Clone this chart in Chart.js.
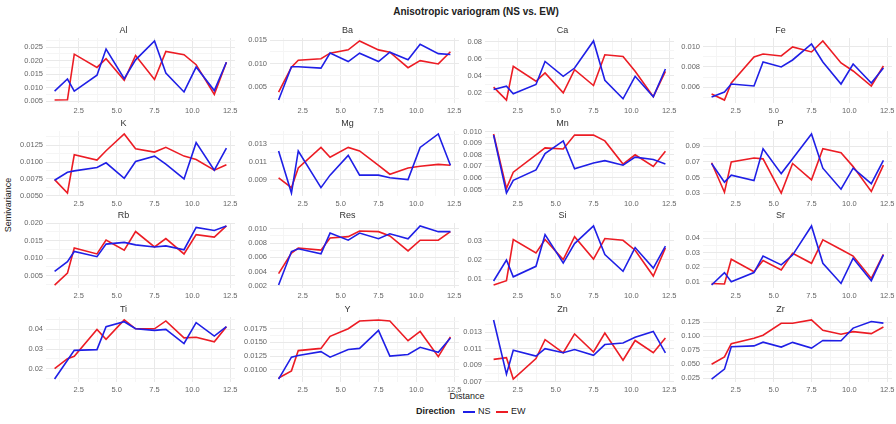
<!DOCTYPE html>
<html lang="en">
  <head>
    <meta charset="UTF-8" />
    <title>Anisotropic variogram</title>
    <script src="https://cdn.jsdelivr.net/npm/chart.js"></script>
    <style>
      body { margin: 0; background: #fff; font-family: "Liberation Sans", Arial, sans-serif; }
      #wrap { position: relative; width: 896px; height: 424px; overflow: hidden; }
      #wrap canvas { position: absolute; }
      .lbl { position: absolute; color: #222; white-space: nowrap; }
      #title { left: 0; width: 952px; top: 6px; text-align: center; font-weight: bold; font-size: 10px; }
      #ylab { left: -22px; top: 200px; width: 60px; text-align: center; font-size: 9px; transform: rotate(-90deg); }
      #xlab { left: 437px; top: 391px; width: 60px; text-align: center; font-size: 9px; }
      #legend { left: 416px; top: 406px; font-size: 9px; }
      #legend b { margin-right: 5px; }
      .key { display: inline-block; width: 12px; height: 2px; vertical-align: middle; margin: 0 3px 0 3px; }
    </style>
  </head>
  <body>
    <div id="wrap">
      <div id="title" class="lbl">Anisotropic variogram (NS vs. EW)</div>
      <div id="ylab" class="lbl">Semivariance</div>
      <div id="xlab" class="lbl">Distance</div>
      <div id="legend" class="lbl"></div>
    </div>
    <script>
      // lag distances (same for both directions)
      var distance = [0.9, 1.75, 2.2, 3.7, 4.3, 5.5, 6.25, 7.5, 8.25, 9.45, 10.25, 11.45, 12.25];
      var xTicks = ["2.5", "5.0", "7.5", "10.0", "12.5"];

      var directions = ["NS", "EW"];
      var dirColors = ["#1f1fe6", "#ec1c24"];

      // semivariance per element, NS and EW
      var Al_NS = [0.0087, 0.0132, 0.0087, 0.0146, 0.0243, 0.0133, 0.0203, 0.0273, 0.0154, 0.0084, 0.0176, 0.0089, 0.0194];
      var Al_EW = [0.0054, 0.0055, 0.0224, 0.0175, 0.0207, 0.0127, 0.0219, 0.013, 0.0234, 0.0222, 0.0185, 0.0075, 0.0194];
      var Ba_NS = [0.0022, 0.0093, 0.0093, 0.009, 0.0122, 0.0104, 0.0122, 0.0104, 0.0124, 0.0108, 0.0141, 0.0121, 0.0119];
      var Ba_EW = [0.0039, 0.0092, 0.0107, 0.011, 0.0122, 0.0129, 0.0148, 0.0129, 0.0124, 0.0091, 0.0106, 0.0099, 0.0125];
      var Ca_NS = [0.0239, 0.0277, 0.0188, 0.0297, 0.0567, 0.0393, 0.049, 0.0807, 0.0347, 0.013, 0.0393, 0.0154, 0.0479];
      var Ca_EW = [0.0266, 0.0115, 0.0509, 0.0335, 0.0432, 0.02, 0.0471, 0.0285, 0.0645, 0.0626, 0.0451, 0.0154, 0.0451];
      var Fe_NS = [0.005, 0.0055, 0.0063, 0.0061, 0.0085, 0.008, 0.0087, 0.0103, 0.0085, 0.0063, 0.0083, 0.0064, 0.0079];
      var Fe_EW = [0.0053, 0.0047, 0.0064, 0.009, 0.0093, 0.0091, 0.01, 0.0095, 0.0106, 0.0084, 0.0076, 0.0061, 0.0081];
      var K_NS = [0.0073, 0.0085, 0.0087, 0.0092, 0.0099, 0.0076, 0.0101, 0.0109, 0.0097, 0.0075, 0.0129, 0.0088, 0.0121];
      var K_EW = [0.0074, 0.0054, 0.0111, 0.0103, 0.0117, 0.0142, 0.012, 0.0115, 0.0122, 0.0109, 0.0104, 0.0088, 0.0096];
      var Mg_NS = [0.0122, 0.0075, 0.0122, 0.0081, 0.0095, 0.0117, 0.0095, 0.0095, 0.0092, 0.009, 0.0126, 0.0141, 0.0106];
      var Mg_EW = [0.0092, 0.0081, 0.0103, 0.0126, 0.0115, 0.0126, 0.0122, 0.0106, 0.0096, 0.0103, 0.0105, 0.0107, 0.0106];
      var Mn_NS = [0.0097, 0.0047, 0.0058, 0.0067, 0.0081, 0.0092, 0.0068, 0.0073, 0.0075, 0.0071, 0.0078, 0.0076, 0.0072];
      var Mn_EW = [0.0098, 0.0051, 0.0065, 0.008, 0.0086, 0.0085, 0.0097, 0.0097, 0.0092, 0.0072, 0.008, 0.007, 0.0083];
      var P_NS = [0.068, 0.044, 0.053, 0.046, 0.087, 0.055, 0.074, 0.106, 0.062, 0.035, 0.062, 0.042, 0.072];
      var P_EW = [0.069, 0.031, 0.07, 0.075, 0.074, 0.03, 0.068, 0.047, 0.087, 0.082, 0.064, 0.032, 0.066];
      var Rb_NS = [0.0062, 0.009, 0.0119, 0.0104, 0.014, 0.0145, 0.0138, 0.0132, 0.0135, 0.0124, 0.0188, 0.0179, 0.0192];
      var Rb_EW = [0.0023, 0.0057, 0.0129, 0.0112, 0.0152, 0.0123, 0.0176, 0.0132, 0.0156, 0.0112, 0.0167, 0.016, 0.0192];
      var Res_NS = [0.0021, 0.0068, 0.0072, 0.0065, 0.0094, 0.0084, 0.0094, 0.0086, 0.0093, 0.0086, 0.0104, 0.0096, 0.0096];
      var Res_EW = [0.0037, 0.0066, 0.0073, 0.007, 0.0087, 0.0089, 0.0097, 0.0096, 0.009, 0.0069, 0.0084, 0.0084, 0.0096];
      var Si_NS = [0.009, 0.02, 0.0112, 0.0167, 0.0333, 0.0184, 0.0286, 0.0378, 0.0228, 0.0141, 0.0265, 0.0158, 0.0272];
      var Si_EW = [0.0069, 0.0092, 0.0307, 0.0237, 0.0307, 0.0202, 0.0322, 0.0205, 0.0312, 0.0303, 0.0251, 0.0116, 0.0263];
      var Sr_NS = [0.0077, 0.0163, 0.01, 0.0163, 0.0277, 0.0216, 0.0284, 0.0485, 0.0227, 0.0088, 0.0262, 0.0107, 0.0285];
      var Sr_EW = [0.0088, 0.0084, 0.0255, 0.0169, 0.0246, 0.0181, 0.0296, 0.0227, 0.0389, 0.0323, 0.0277, 0.0123, 0.0289];
      var Ti_NS = [0.0147, 0.0243, 0.0293, 0.0297, 0.0414, 0.0439, 0.0403, 0.0395, 0.04, 0.0328, 0.0434, 0.0366, 0.0414];
      var Ti_EW = [0.02, 0.0251, 0.0263, 0.04, 0.0349, 0.0448, 0.0403, 0.0403, 0.0443, 0.0357, 0.036, 0.0337, 0.0414];
      var Y_NS = [0.0083, 0.0123, 0.0126, 0.0133, 0.0123, 0.0137, 0.0139, 0.0172, 0.0125, 0.0128, 0.0141, 0.0132, 0.0158];
      var Y_EW = [0.0085, 0.0098, 0.0135, 0.0139, 0.0161, 0.0175, 0.0189, 0.0191, 0.0189, 0.0153, 0.017, 0.0124, 0.016];
      var Zn_NS = [0.0145, 0.0079, 0.0108, 0.0101, 0.011, 0.0105, 0.0109, 0.0102, 0.0115, 0.0117, 0.0124, 0.0131, 0.0105];
      var Zn_EW = [0.0097, 0.0099, 0.0073, 0.0098, 0.0121, 0.0105, 0.0128, 0.0106, 0.0129, 0.0096, 0.012, 0.0105, 0.0123];
      var Zr_NS = [0.0238, 0.0414, 0.081, 0.0827, 0.0893, 0.0805, 0.0889, 0.0787, 0.0923, 0.0917, 0.1142, 0.126, 0.1231];
      var Zr_EW = [0.05, 0.063, 0.0867, 0.0962, 0.1015, 0.1228, 0.1228, 0.1287, 0.1104, 0.1033, 0.108, 0.1045, 0.1163];

      // y tick labels per panel
      var Al_ticks = ["0.005", "0.010", "0.015", "0.020", "0.025"];
      var Ba_ticks = ["0.005", "0.010", "0.015"];
      var Ca_ticks = ["0.02", "0.04", "0.06", "0.08"];
      var Fe_ticks = ["0.006", "0.008", "0.010"];
      var K_ticks = ["0.0050", "0.0075", "0.0100", "0.0125"];
      var Mg_ticks = ["0.009", "0.011", "0.013"];
      var Mn_ticks = ["0.005", "0.006", "0.007", "0.008", "0.009", "0.010"];
      var P_ticks = ["0.03", "0.05", "0.07", "0.09"];
      var Rb_ticks = ["0.005", "0.010", "0.015", "0.020"];
      var Res_ticks = ["0.002", "0.004", "0.006", "0.008", "0.010"];
      var Si_ticks = ["0.01", "0.02", "0.03"];
      var Sr_ticks = ["0.01", "0.02", "0.03", "0.04"];
      var Ti_ticks = ["0.02", "0.03", "0.04"];
      var Y_ticks = ["0.0100", "0.0125", "0.0150", "0.0175"];
      var Zn_ticks = ["0.007", "0.009", "0.011", "0.013"];
      var Zr_ticks = ["0.025", "0.050", "0.075", "0.100", "0.125"];

      var panels = [
        ["Al", Al_NS, Al_EW, Al_ticks], ["Ba", Ba_NS, Ba_EW, Ba_ticks],
        ["Ca", Ca_NS, Ca_EW, Ca_ticks], ["Fe", Fe_NS, Fe_EW, Fe_ticks],
        ["K", K_NS, K_EW, K_ticks], ["Mg", Mg_NS, Mg_EW, Mg_ticks],
        ["Mn", Mn_NS, Mn_EW, Mn_ticks], ["P", P_NS, P_EW, P_ticks],
        ["Rb", Rb_NS, Rb_EW, Rb_ticks], ["Res", Res_NS, Res_EW, Res_ticks],
        ["Si", Si_NS, Si_EW, Si_ticks], ["Sr", Sr_NS, Sr_EW, Sr_ticks],
        ["Ti", Ti_NS, Ti_EW, Ti_ticks], ["Y", Y_NS, Y_EW, Y_ticks],
        ["Zn", Zn_NS, Zn_EW, Zn_ticks], ["Zr", Zr_NS, Zr_EW, Zr_ticks]
      ];

      // layout of the facet grid
      var colLeft = [46, 270, 485, 703];
      var rowTop = [38, 131, 223, 317];
      var plotW = 189, plotH = 65, axisW = 34, stripH = 14, xAxisH = 12, padR = 10;

      var majorGrid = "#e9e9e9", minorGrid = "#f5f5f5";

      // ggplot style range: data range padded by 5%
      function padRange(vals) {
        var lo = Math.min.apply(null, vals), hi = Math.max.apply(null, vals);
        var d = (hi - lo) * 0.05;
        return [lo - d, hi + d];
      }

      // major ticks from labels plus minor ones halfway between
      function withMinor(majors, lo, hi) {
        var out = [];
        var step = majors.length > 1 ? majors[1] - majors[0] : 1;
        var all = [majors[0] - step].concat(majors, [majors[majors.length - 1] + step]);
        for (var i = 0; i < all.length; i++) {
          if (i > 0 && i < all.length - 1 && all[i] >= lo - 1e-9 && all[i] <= hi + 1e-9)
            out.push({ value: all[i], minor: false });
          if (i < all.length - 1) {
            var m = (all[i] + all[i + 1]) / 2;
            if (m >= lo && m <= hi) out.push({ value: m, minor: true });
          }
        }
        out.sort(function (a, b) { return a.value - b.value; });
        return out;
      }

      function gridColor(ctx) {
        return ctx.tick && ctx.tick.minor ? minorGrid : majorGrid;
      }

      var xr = padRange(distance);
      var xMajor = xTicks.map(Number);

      var wrap = document.getElementById("wrap");

      panels.forEach(function (p, idx) {
        var name = p[0], series = [p[1], p[2]], labels = p[3];
        var col = idx % 4, row = Math.floor(idx / 4);
        var yr = padRange(p[1].concat(p[2]));
        var yMajor = labels.map(Number);

        var cv = document.createElement("canvas");
        cv.width = axisW + plotW + padR;
        cv.height = stripH + plotH + xAxisH;
        cv.style.left = colLeft[col] - axisW + "px";
        cv.style.top = rowTop[row] - stripH + "px";
        wrap.appendChild(cv);

        new Chart(cv.getContext("2d"), {
          type: "line",
          data: {
            datasets: directions.map(function (d, k) {
              return {
                label: d,
                data: distance.map(function (x, i) { return { x: x, y: series[k][i] }; }),
                borderColor: dirColors[k],
                borderWidth: 1.6,
                pointRadius: 0,
                tension: 0,
                fill: false
              };
            })
          },
          options: {
            responsive: false,
            animation: false,
            layout: { padding: { left: 0, right: padR, top: 0, bottom: 0 } },
            plugins: {
              legend: { display: false },
              tooltip: { enabled: false },
              title: {
                display: true,
                text: name,
                color: "#333",
                font: { family: "Liberation Sans", size: 9, weight: "normal", lineHeight: 1.2 },
                padding: { top: 1.2, bottom: 2 }
              }
            },
            scales: {
              x: {
                type: "linear",
                min: xr[0],
                max: xr[1],
                bounds: "data",
                border: { display: false },
                grid: { color: gridColor, drawTicks: false, lineWidth: 1 },
                ticks: {
                  autoSkip: false,
                  maxRotation: 0,
                  padding: 3,
                  color: "#666",
                  font: { family: "Liberation Sans", size: 7.5 },
                  callback: function (v, i, ticks) {
                    return ticks[i].minor ? "" : v.toFixed(1);
                  }
                },
                afterBuildTicks: function (axis) { axis.ticks = withMinor(xMajor, xr[0], xr[1]); },
                afterFit: function (axis) { axis.height = xAxisH; }
              },
              y: {
                type: "linear",
                min: yr[0],
                max: yr[1],
                bounds: "data",
                border: { display: false },
                grid: { color: gridColor, drawTicks: false, lineWidth: 1 },
                ticks: {
                  autoSkip: false,
                  padding: 3,
                  color: "#666",
                  font: { family: "Liberation Sans", size: 7.5 },
                  callback: function (v, i, ticks) {
                    if (ticks[i].minor) return "";
                    var j = yMajor.findIndex(function (m) { return Math.abs(m - v) < 1e-9; });
                    return j >= 0 ? labels[j] : "";
                  }
                },
                afterBuildTicks: function (axis) { axis.ticks = withMinor(yMajor, yr[0], yr[1]); },
                afterFit: function (axis) { axis.width = axisW; }
              }
            }
          }
        });
      });

      // legend built from the direction names
      var lg = document.getElementById("legend");
      var html = "<b>Direction</b>";
      directions.forEach(function (d, k) {
        html += '<span class="key" style="background:' + dirColors[k] + '"></span>' + d + "&nbsp;";
      });
      lg.innerHTML = html;
    </script>
  </body>
</html>
